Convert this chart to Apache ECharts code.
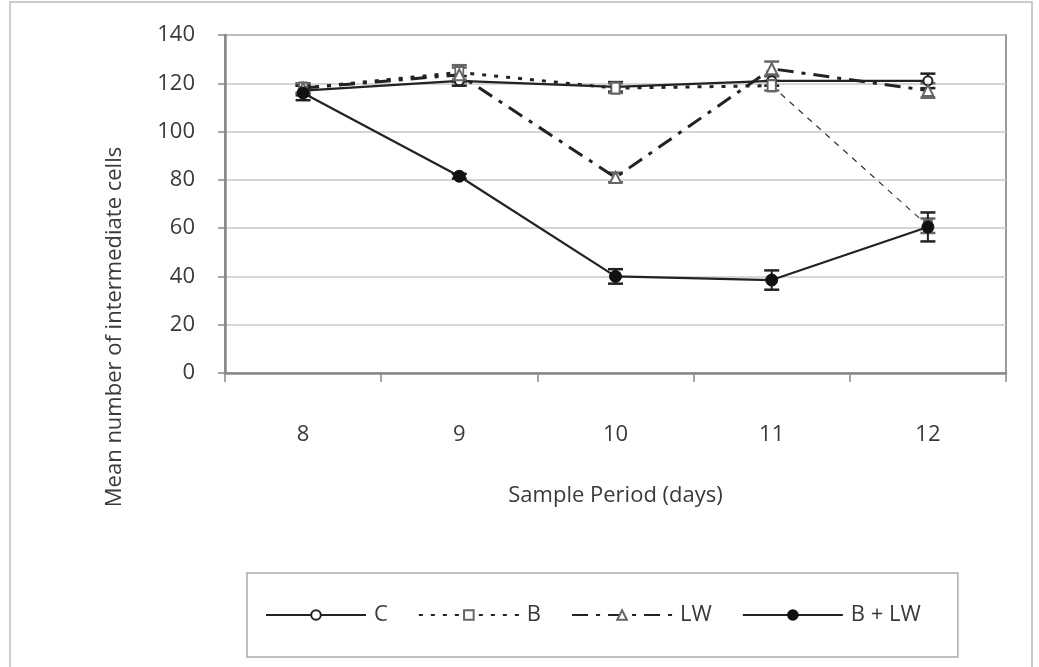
<!DOCTYPE html>
<html>
<head>
<meta charset="utf-8">
<script src="https://cdn.jsdelivr.net/npm/echarts@6/dist/echarts.min.js"></script>
<style>
html,body{margin:0;padding:0;background:#fff;}
#chart{width:1039px;height:667px;}
</style>
</head>
<body>
<div id="chart"></div>
<script>
const categories = ['8', '9', '10', '11', '12'];
const seriesNames = ['C', 'B', 'LW', 'B + LW'];
const valC   = [117, 121, 118.5, 121, 121];
const valB   = [118, 124.5, 118, 119, 61];
const valLW  = [118, 123.5, 81, 126, 117];
const valBLW = [116, 81.5, 40, 38.5, 60.5];
const errC   = [2, 2, 2, 2, 3];
const errB   = [2, 3, 2, 2, 3];
const errLW  = [2, 3, 2, 3, 3];
const errBLW = [3, 1, 3, 4, 6];
const yMin = 0, yMax = 140, yStep = 20;
const xTitle = 'Sample Period (days)';
const yTitle = 'Mean number of intermediate cells';

const FONT = '"Open Sans", "DejaVu Sans", sans-serif';
const DARK = '#222';
const GRAY = '#666';
const TXT = '#3a3a3a';

function errSeries(vals, errs, color, z) {
  return {
    type: 'custom',
    silent: true,
    z: z,
    data: vals.map((v, i) => [i, v, errs[i]]),
    encode: { x: 0, y: 1 },
    renderItem: function (params, api) {
      const x = api.value(0), y = api.value(1), e = api.value(2);
      const top = api.coord([x, y + e]);
      const bot = api.coord([x, y - e]);
      const hw = 7.5;
      return {
        type: 'group',
        children: [
          { type: 'line', shape: { x1: top[0], y1: top[1], x2: bot[0], y2: bot[1] }, style: { stroke: color, lineWidth: 2 } },
          { type: 'line', shape: { x1: top[0] - hw, y1: top[1], x2: top[0] + hw, y2: top[1] }, style: { stroke: color, lineWidth: 2.5 } },
          { type: 'line', shape: { x1: bot[0] - hw, y1: bot[1], x2: bot[0] + hw, y2: bot[1] }, style: { stroke: color, lineWidth: 2.5 } }
        ]
      };
    }
  };
}

const bHead = valB.map((v, i) => (i <= 3 ? v : null));
const bTail = valB.map((v, i) => (i >= 3 ? v : null));

const chart = echarts.init(document.getElementById('chart'));
chart.setOption({
  animation: false,
  backgroundColor: '#fff',
  textStyle: { fontFamily: FONT },
  grid: {
    left: 225, top: 35, right: 33, bottom: 294,
    show: true, borderColor: '#9a9a9a', borderWidth: 2, backgroundColor: 'transparent'
  },
  xAxis: {
    type: 'category',
    data: categories,
    boundaryGap: true,
    axisLine: { lineStyle: { color: '#888', width: 2.5 } },
    axisTick: { show: true, length: 9, inside: false, alignWithLabel: false, lineStyle: { color: '#888', width: 1.5 } },
    axisLabel: { margin: 51, fontSize: 22, color: TXT, fontFamily: FONT },
    name: xTitle,
    nameLocation: 'middle',
    nameGap: 112,
    nameTextStyle: { fontSize: 22, color: TXT, fontFamily: FONT }
  },
  yAxis: {
    type: 'value',
    min: yMin, max: yMax, interval: yStep,
    axisLine: { show: true, lineStyle: { color: '#888', width: 2.5 } },
    axisTick: { show: true, length: 7, lineStyle: { color: '#888', width: 1.5 } },
    axisLabel: { margin: 30, fontSize: 22, color: TXT, fontFamily: FONT },
    splitLine: { show: true, lineStyle: { color: '#c8c8c8', width: 1.5 } }
  },
  legend: {
    data: seriesNames,
    left: 247, top: 573,
    padding: [31, 37, 31, 18],
    itemWidth: 100, itemHeight: 12, itemGap: 30,
    borderColor: '#aaa', borderWidth: 1.5,
    textStyle: { fontSize: 22, color: TXT, fontFamily: FONT, padding: [0, 0, 0, 3] }
  },
  graphic: [
    {
      type: 'rect',
      shape: { x: 10, y: 2, width: 1022, height: 700 },
      style: { fill: 'none', stroke: '#bbb', lineWidth: 1.5 },
      silent: true
    },
    {
      type: 'text',
      x: 115, y: 327,
      rotation: Math.PI / 2,
      style: {
        text: yTitle, fontSize: 22, fontFamily: FONT, fill: TXT,
        textAlign: 'center', textVerticalAlign: 'middle'
      },
      silent: true
    }
  ],
  series: [
    errSeries(valC, errC, DARK, 3),
    errSeries(valB, errB, GRAY, 3),
    errSeries(valLW, errLW, GRAY, 3),
    errSeries(valBLW, errBLW, DARK, 3),
    {
      name: 'C', type: 'line', data: valC, z: 5,
      symbol: 'circle', symbolSize: 9,
      lineStyle: { color: DARK, width: 2.2, type: 'solid' },
      itemStyle: { color: '#fff', borderColor: DARK, borderWidth: 2 }
    },
    {
      name: 'B', type: 'line', data: bHead, z: 5, connectNulls: false,
      symbol: 'rect', symbolSize: [8, 11],
      lineStyle: { color: DARK, width: 3, type: [4, 8] },
      itemStyle: { color: '#fff', borderColor: GRAY, borderWidth: 2 }
    },
    {
      name: 'B-tail', type: 'line', data: bTail, z: 4, connectNulls: false,
      symbol: 'rect', symbolSize: [8, 11],
      lineStyle: { color: '#333', width: 1.2, type: [6, 6] },
      itemStyle: { color: '#fff', borderColor: GRAY, borderWidth: 2 }
    },
    {
      name: 'LW', type: 'line', data: valLW, z: 5,
      symbol: 'triangle', symbolSize: 11,
      lineStyle: { color: DARK, width: 3, type: [16, 8, 4, 8] },
      itemStyle: { color: '#fff', borderColor: GRAY, borderWidth: 2 }
    },
    {
      name: 'B + LW', type: 'line', data: valBLW, z: 6,
      symbol: 'circle', symbolSize: 12,
      lineStyle: { color: DARK, width: 2.2, type: 'solid' },
      itemStyle: { color: '#111', borderColor: '#111', borderWidth: 1 }
    }
  ]
});
</script>
</body>
</html>
